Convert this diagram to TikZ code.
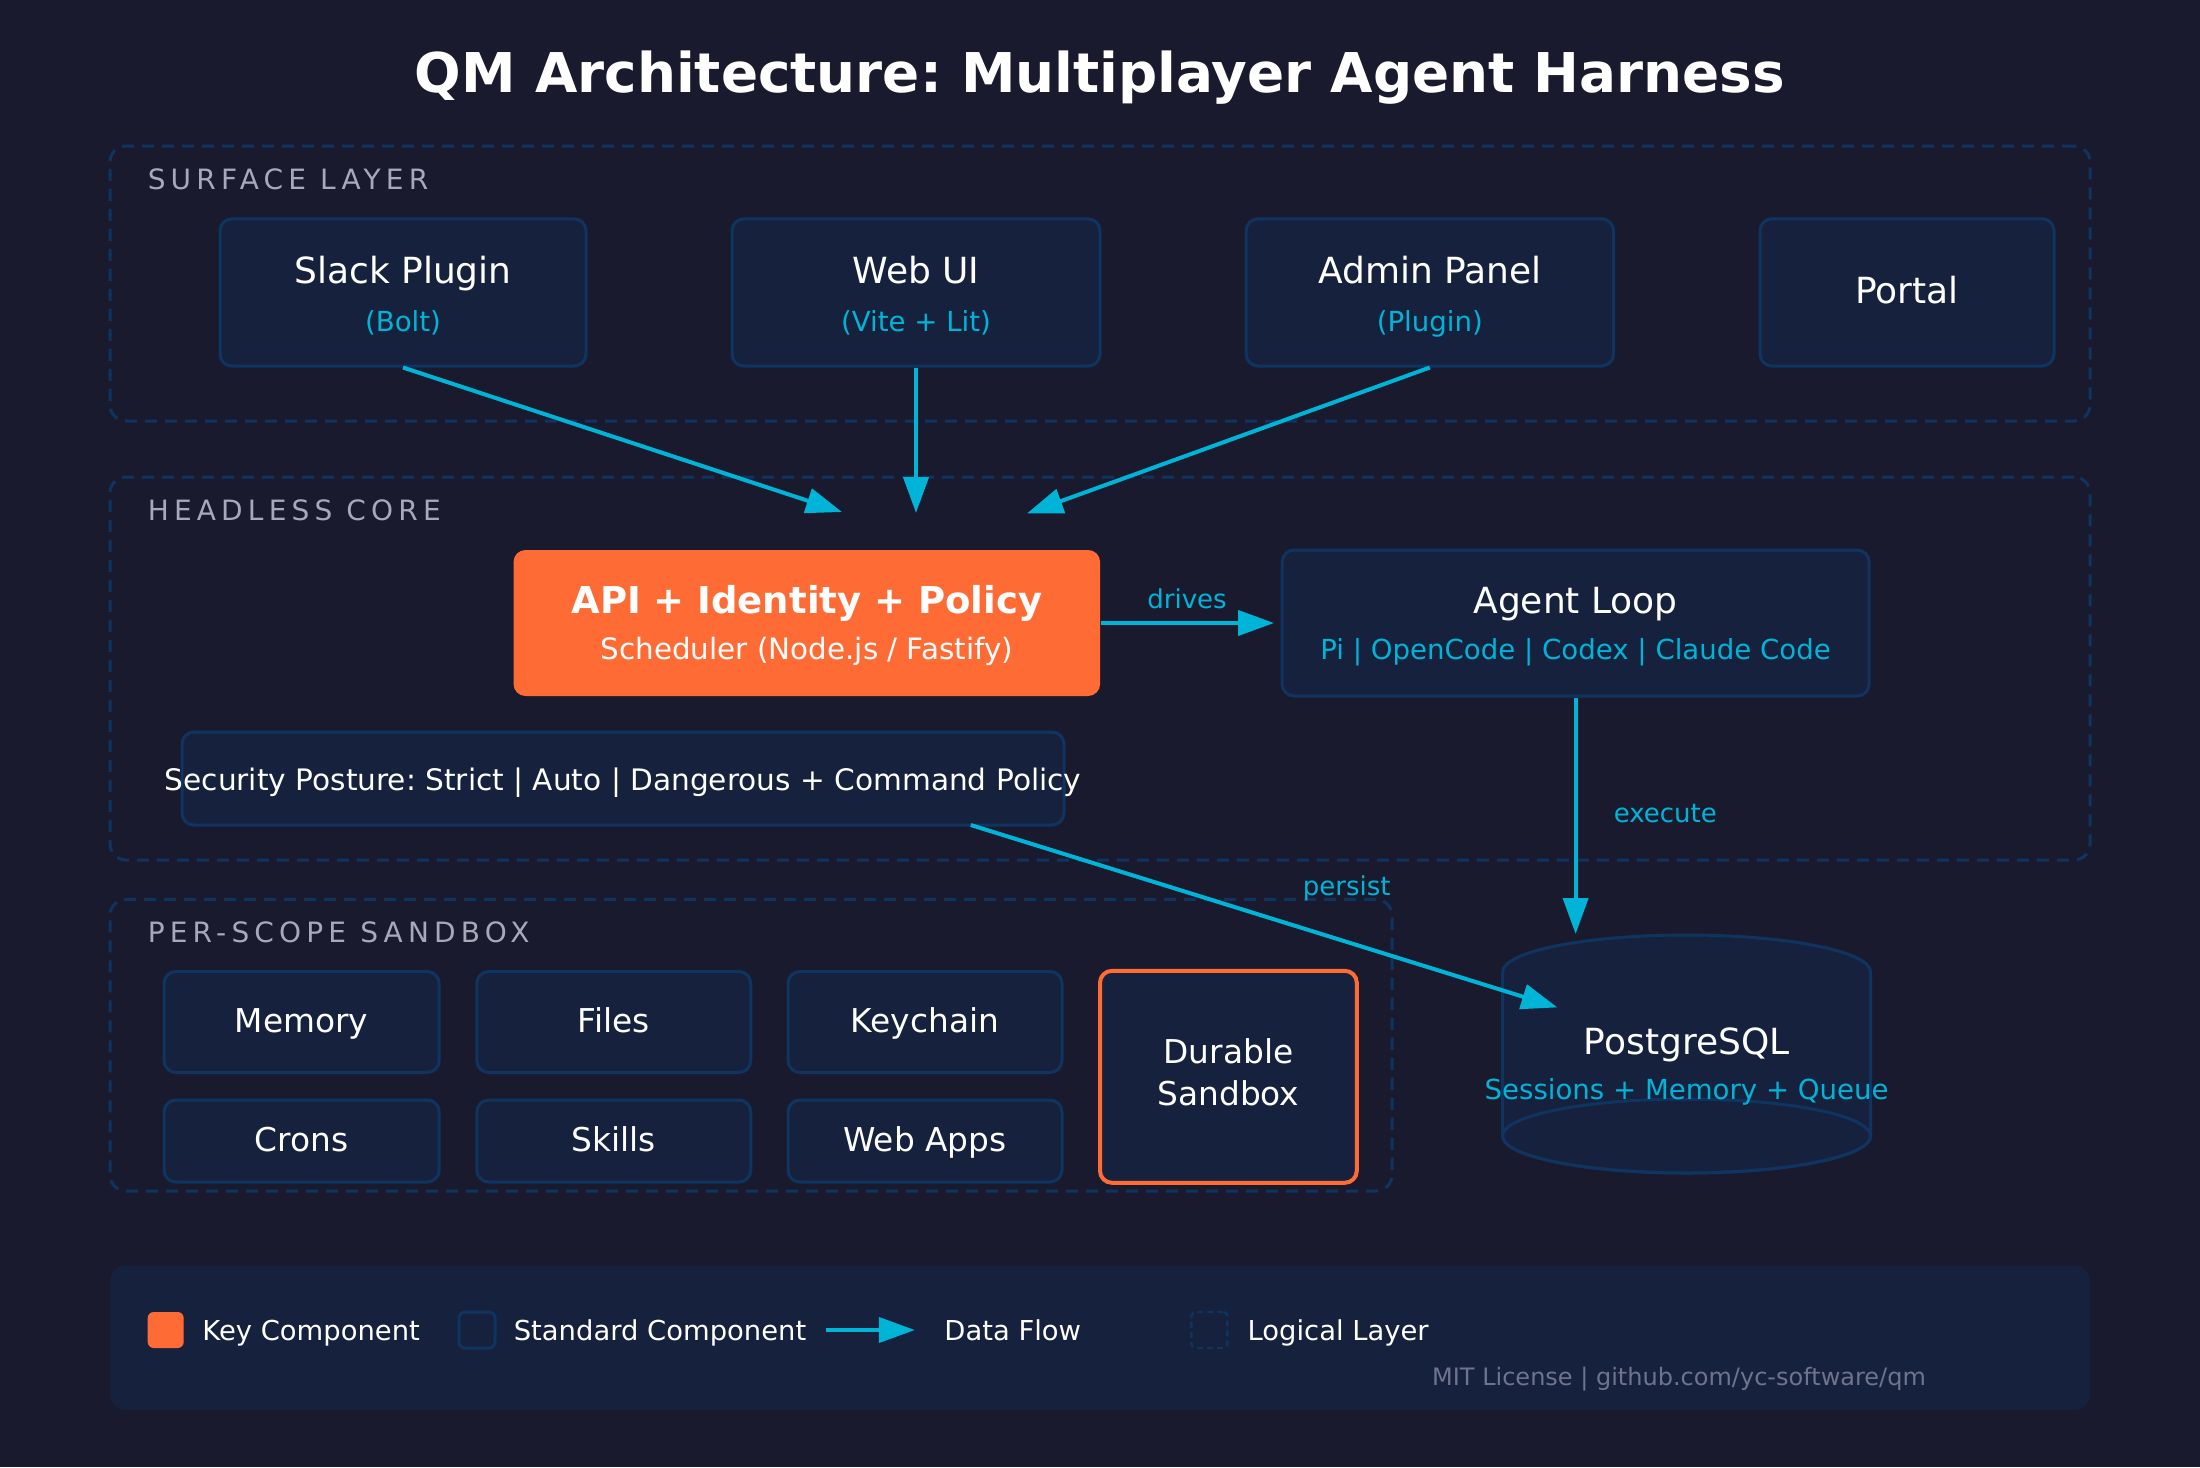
\documentclass[tikz,border=0pt]{standalone}
\usepackage{fontspec}
\setmainfont{DejaVu Sans}
\newfontfamily\spacedfont[LetterSpace=18.5]{DejaVu Sans}
\usetikzlibrary{arrows.meta}
\frenchspacing
\definecolor{bg}{HTML}{1A1A2E}
\definecolor{boxfill}{HTML}{16213E}
\definecolor{border}{HTML}{0F3460}
\definecolor{keyorange}{HTML}{FF6B35}
\definecolor{flowcyan}{HTML}{00B4D8}
\definecolor{lblgrey}{HTML}{A8A8B8}
\definecolor{footgrey}{HTML}{6E748C}
\tikzset{
  comp/.style={draw=border, fill=boxfill, line width=1.5pt, rounded corners=6pt, inner sep=0pt},
  keycomp/.style={fill=keyorange, rounded corners=6pt, inner sep=0pt},
  layerbox/.style={draw=border, dash pattern=on 6pt off 4pt, line width=1.5pt, rounded corners=8pt, inner sep=0pt},
  flow/.style={draw=flowcyan, line width=2pt, -{Triangle[length=18pt,width=12.5pt]}},
  layerlbl/.style={anchor=base west, inner sep=0pt, text=lblgrey, font=\spacedfont\fontsize{14}{16}\selectfont},
  ttl/.style={anchor=base, inner sep=0pt, text=white, font=\fontsize{18}{21}\selectfont},
  sub/.style={anchor=base, inner sep=0pt, text=flowcyan, font=\fontsize{13.8}{16}\selectfont},
  small/.style={anchor=base, inner sep=0pt, text=white, font=\fontsize{16.4}{19}\selectfont},
  flowlbl/.style={inner sep=0pt, text=flowcyan, font=\fontsize{13}{15}\selectfont},
  legtxt/.style={anchor=base west, inner sep=0pt, text=white, font=\fontsize{13.7}{16}\selectfont},
}
\begin{document}
\begin{tikzpicture}[x=1pt,y=-1pt]
\useasboundingbox (0,0) rectangle (1100,733.5);
\fill[bg] (0,0) rectangle (1100,733.5);

% title
\node[anchor=base, inner sep=0pt, text=white, font=\bfseries\fontsize{27.4}{32}\selectfont] (title) at (550,46) {QM Architecture: Multiplayer Agent Harness};

% layer boxes
\node[layerbox, minimum width=990pt, minimum height=137.5pt] (surface) at (550,141.75) {};
\node[layerbox, minimum width=990pt, minimum height=191.5pt] (core) at (550,334.25) {};
\node[layerbox, minimum width=641pt, minimum height=145.8pt] (sandbox) at (375.5,522.6) {};
\node[layerlbl] (surfacelbl) at (73.7,94.5) {SURFACE LAYER};
\node[layerlbl] (corelbl) at (73.7,260) {HEADLESS CORE};
\node[layerlbl] (sandboxlbl) at (73.7,471.2) {PER-SCOPE SANDBOX};

% surface components
\node[comp, minimum width=183pt, minimum height=73.6pt] (slack) at (201.5,146.2) {};
\node[comp, minimum width=184pt, minimum height=73.6pt] (web) at (458,146.2) {};
\node[comp, minimum width=183.7pt, minimum height=73.6pt] (admin) at (714.9,146.2) {};
\node[comp, minimum width=147pt, minimum height=73.6pt] (portal) at (953.5,146.2) {};
\node[ttl] (slackt) at (201.5,141.5) {Slack Plugin};
\node[sub] (slacks) at (201.5,165.6) {(Bolt)};
\node[ttl] (webt) at (458,141.5) {Web UI};
\node[sub] (webs) at (458,165.6) {(Vite + Lit)};
\node[ttl] (admint) at (714.9,141.5) {Admin Panel};
\node[sub] (admins) at (714.9,165.6) {(Plugin)};
\node[ttl] (portalt) at (953.5,151.5) {Portal};

% headless core
\node[keycomp, minimum width=293.3pt, minimum height=73pt] (api) at (403.4,311.5) {};
\node[anchor=base, inner sep=0pt, text=white, font=\bfseries\fontsize{18.5}{21}\selectfont] (apit) at (403.4,306.8) {API + Identity + Policy};
\node[anchor=base, inner sep=0pt, text=white, font=\fontsize{14.7}{17}\selectfont] (apis) at (403.4,329.8) {Scheduler (Node.js / Fastify)};
\node[comp, minimum width=293.5pt, minimum height=73pt] (agent) at (787.8,311.5) {};
\node[ttl] (agentt) at (787.8,306.8) {Agent Loop};
\node[sub] (agents) at (787.8,329.8) {Pi | OpenCode | Codex | Claude Code};
\node[comp, minimum width=441pt, minimum height=46.5pt] (sec) at (311.5,389.25) {};
\node[anchor=base, inner sep=0pt, text=white, font=\fontsize{14.8}{17}\selectfont] (sect) at (311.5,395.2) {Security Posture: Strict | Auto | Dangerous + Command Policy};

% sandbox components
\node[comp, minimum width=137.6pt, minimum height=50.5pt] (memory) at (150.8,511) {};
\node[comp, minimum width=137pt, minimum height=50.5pt] (files) at (306.9,511) {};
\node[comp, minimum width=137pt, minimum height=50.5pt] (keychain) at (462.5,511) {};
\node[comp, minimum width=137.6pt, minimum height=41pt] (crons) at (150.8,570.5) {};
\node[comp, minimum width=137pt, minimum height=41pt] (skills) at (306.9,570.5) {};
\node[comp, minimum width=137pt, minimum height=41pt] (webapps) at (462.5,570.5) {};
\node[comp, draw=keyorange, line width=2pt, minimum width=128.4pt, minimum height=106pt] (durable) at (614.2,538.4) {};
\node[small] (memoryt) at (150.8,516) {Memory};
\node[small] (filest) at (306.9,516) {Files};
\node[small] (keychaint) at (462.5,516) {Keychain};
\node[small] (cronst) at (150.8,575.6) {Crons};
\node[small] (skillst) at (306.9,575.6) {Skills};
\node[small] (webappst) at (462.5,575.6) {Web Apps};
\node[small] (durablet1) at (614.2,531.5) {Durable};
\node[small] (durablet2) at (614.2,552.7) {Sandbox};

% PostgreSQL cylinder
\path[fill=boxfill, draw=border, line width=1.5pt] (751.3,486) arc[start angle=180, end angle=360, x radius=92, y radius=18.5] -- (935.3,568) arc[start angle=0, end angle=180, x radius=92, y radius=18.5] -- cycle;
\draw[border, line width=1.5pt] (843.3,568) ellipse[x radius=92, y radius=18.5];
\node[ttl] (pgt) at (843.3,527) {PostgreSQL};
\node[sub] (pgs) at (843.3,549.7) {Sessions + Memory + Queue};

% connectors
\coordinate (slackin) at (421,256);
\coordinate (webin) at (458,256.5);
\coordinate (adminin) at (513.5,256.7);
\coordinate (agentin) at (637,311.5);
\coordinate (pgtop) at (787.8,467);
\coordinate (secout) at (485.4,412.5);
\coordinate (pgin) at (778.7,503.7);
\draw[flow] (slack.south) -- (slackin);
\draw[flow] (web.south) -- (webin);
\draw[flow] (admin.south) -- (adminin);
\draw[flow] (api.east) -- (agentin);
\draw[flow] (agent.south) -- (pgtop);
\draw[flow] (secout) -- (pgin);
\node[flowlbl, anchor=base] (drives) at (593.5,304) {drives};
\node[flowlbl, anchor=base west] (execute) at (806.7,411) {execute};
\node[flowlbl, anchor=base] (persist) at (673.4,447.5) {persist};

% legend
\node[fill=boxfill, rounded corners=8pt, inner sep=0pt, minimum width=990pt, minimum height=72.2pt] (legend) at (550,668.9) {};
\node[fill=keyorange, rounded corners=3pt, inner sep=0pt, minimum size=18pt] (legkey) at (82.85,665) {};
\node[draw=border, line width=1.5pt, rounded corners=3pt, inner sep=0pt, minimum size=18pt] (legstd) at (238.5,665) {};
\coordinate (legflowa) at (413,665);
\coordinate (legflowb) at (457.4,665);
\draw[flow] (legflowa) -- (legflowb);
\node[draw=border, line width=1.2pt, dash pattern=on 3pt off 2pt, rounded corners=2pt, inner sep=0pt, minimum size=18pt] (leglayer) at (604.7,665) {};
\node[legtxt] (legkeyt) at (101,670) {Key Component};
\node[legtxt] (legstdt) at (256.7,670) {Standard Component};
\node[legtxt] (legflowt) at (472,670) {Data Flow};
\node[legtxt] (leglayert) at (623.6,670) {Logical Layer};
\node[anchor=base, inner sep=0pt, text=footgrey, font=\fontsize{12}{14}\selectfont] (footer) at (839.5,692.5) {MIT License | github.com/yc-software/qm};
\end{tikzpicture}
\end{document}
